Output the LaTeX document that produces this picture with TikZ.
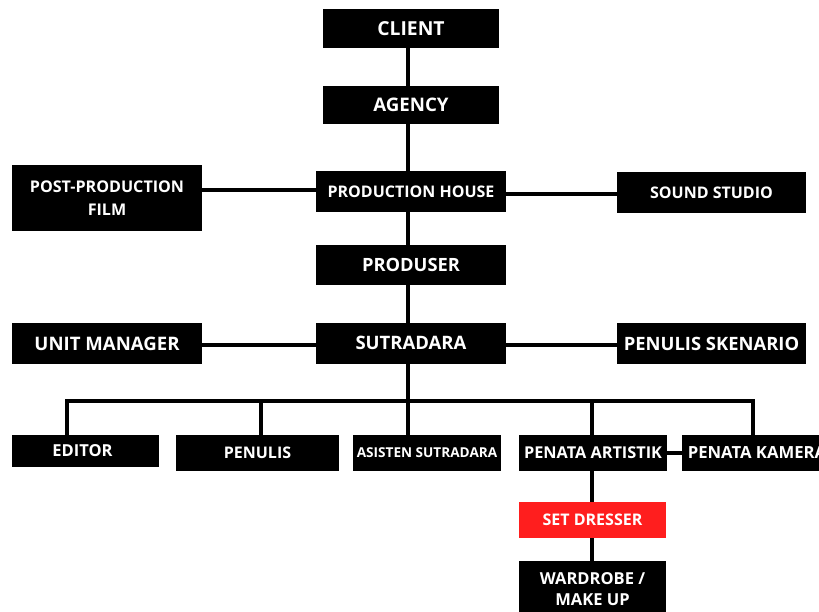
\documentclass[tikz,border=0pt]{standalone}
\usepackage{fontspec}
\setmainfont{Open Sans}
\usetikzlibrary{backgrounds}
\definecolor{sdred}{HTML}{FF1E1E}
\begin{document}
\begin{tikzpicture}[x=1pt,y=-1pt,
  box/.style={fill=black,text=white,inner sep=0pt,align=center,font=\bfseries\fontsize{17}{22}\selectfont},
  link/.style={line width=4pt,draw=black}]
\useasboundingbox (0,0) rectangle (819,612);
\clip (0,0) rectangle (819,612);
% nodes
\node[box,minimum width=176pt,minimum height=39pt,font=\bfseries\fontsize{19.3}{22}\selectfont] (client) at (411,28.5) {CLIENT};
\node[box,minimum width=176pt,minimum height=38pt,font=\bfseries\fontsize{18.7}{22}\selectfont] (agency) at (411,105) {AGENCY};
\node[box,minimum width=190pt,minimum height=41pt,font=\bfseries\fontsize{16}{22}\selectfont] (ph) at (411,191.5) {PRODUCTION HOUSE};
\node[box,minimum width=190pt,minimum height=66pt,font=\bfseries\fontsize{16.1}{23}\selectfont] (ppf) at (107,198) {POST-PRODUCTION\\FILM};
\node[box,minimum width=189pt,minimum height=41pt,font=\bfseries\fontsize{16}{22}\selectfont] (ss) at (711.5,192.5) {SOUND STUDIO};
\node[box,minimum width=190pt,minimum height=40pt,font=\bfseries\fontsize{18.3}{22}\selectfont] (produser) at (411,265) {PRODUSER};
\node[box,minimum width=190pt,minimum height=41pt,font=\bfseries\fontsize{18.5}{22}\selectfont] (sut) at (411,343.5) {\raisebox{2pt}{SUTRADARA}};
\node[box,minimum width=190pt,minimum height=41pt,font=\bfseries\fontsize{18.6}{22}\selectfont] (um) at (107,343.5) {UNIT MANAGER};
\node[box,minimum width=189pt,minimum height=41pt,font=\bfseries\fontsize{18.4}{22}\selectfont] (ps) at (711.5,343.5) {PENULIS SKENARIO};
\node[box,minimum width=147pt,minimum height=32pt,font=\bfseries\fontsize{16.5}{22}\selectfont] (editor) at (85.5,451) {EDITOR\hspace*{6pt}};
\node[box,minimum width=163pt,minimum height=36pt,font=\bfseries\fontsize{16}{22}\selectfont] (penulis) at (257.5,453) {PENULIS};
\node[box,minimum width=148pt,minimum height=36pt,font=\bfseries\fontsize{13.6}{22}\selectfont] (asisten) at (427,453) {ASISTEN SUTRADARA};
\node[box,minimum width=148pt,minimum height=36pt,font=\bfseries\fontsize{16.3}{22}\selectfont] (pa) at (593,453) {PENATA ARTISTIK};
\node[box,minimum width=150pt,minimum height=36pt,font=\bfseries\fontsize{16.7}{22}\selectfont] (pk) at (757,453) {PENATA KAMERA};
\node[box,fill=sdred,minimum width=147pt,minimum height=36pt,font=\bfseries\fontsize{16}{22}\selectfont] (sd) at (592.5,520) {SET DRESSER};
\node[box,minimum width=147pt,minimum height=56pt,font=\bfseries\fontsize{16.5}{21}\selectfont] (wm) at (592.5,589) {WARDROBE /\\MAKE UP};
% coordinates
\coordinate (spine) at (408,0);
\coordinate (d1) at (67,401);
\coordinate (d2) at (261,401);
\coordinate (d3) at (408,401);
\coordinate (d4) at (592,401);
\coordinate (d5) at (753,401);
% connectors
\begin{scope}[on background layer]
\fill[white] (0,0) rectangle (819,612);
\draw[link] (client.south -| spine) -- (agency.north -| spine);
\draw[link] (agency.south -| spine) -- (ph.north -| spine);
\draw[link] (ph.south -| spine) -- (produser.north -| spine);
\draw[link] (produser.south -| spine) -- (sut.north -| spine);
\draw[link] (sut.south -| spine) -- (asisten.north -| spine);
\draw[link] ([yshift=1.5pt]ph.west) -- ([yshift=1.5pt]ph.west -| ppf.east);
\draw[link] ([yshift=-2.5pt]ph.east) -- ([yshift=-2.5pt]ph.east -| ss.west);
\draw[link] ([yshift=-1.5pt]sut.west) -- ([yshift=-1.5pt]sut.west -| um.east);
\draw[link] ([yshift=-1.5pt]sut.east) -- ([yshift=-1.5pt]sut.east -| ps.west);
\draw[link] (d1 |- editor.north) -- (d1) -- (d5) -- (d5 |- pk.north);
\draw[link] (d2) -- (d2 |- penulis.north);
\draw[link] (d4) -- (d4 |- pa.north);
\draw[link] (pa.east) -- (pk.west);
\draw[link] (pa.south -| d4) -- (sd.north -| d4);
\draw[link] (sd.south -| d4) -- (wm.north -| d4);
\end{scope}
\end{tikzpicture}
\end{document}
